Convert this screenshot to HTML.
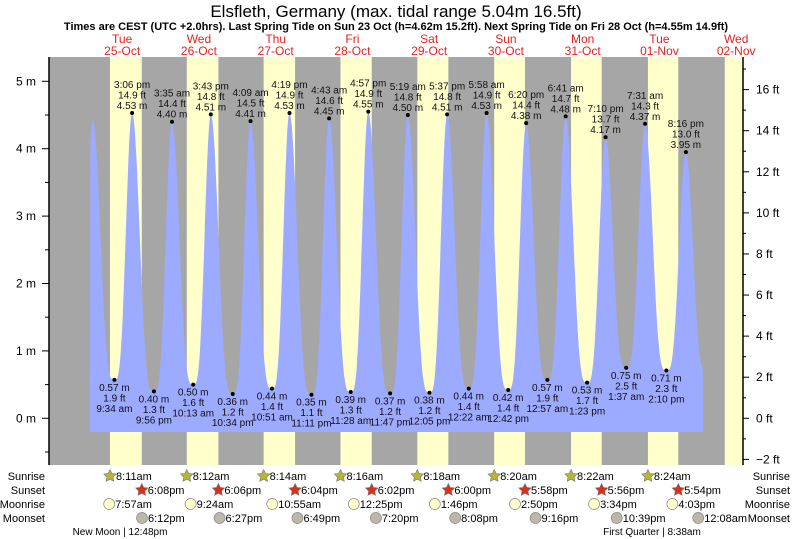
<!DOCTYPE html>
<html><head><meta charset="utf-8"><style>
body{margin:0;background:#fff}
svg{display:block;font-family:"Liberation Sans",sans-serif}
</style></head><body>
<svg id="c" width="793" height="539" viewBox="0 0 793 539">
<text x="396" y="17" font-size="17" text-anchor="middle">Elsfleth, Germany (max. tidal range 5.04m 16.5ft)</text>
<text x="396" y="30" font-size="11" font-weight="bold" text-anchor="middle">Times are CEST (UTC +2.0hrs). Last Spring Tide on Sun 23 Oct (h=4.62m 15.2ft). Next Spring Tide on Fri 28 Oct (h=4.55m 14.9ft)</text>
<g id="bg"></g><g id="tide"></g><g id="lbl"></g><g id="axes"></g><g id="bottom"></g>
</svg>
<script>
const days=["Tue","Wed","Thu","Fri","Sat","Sun","Mon","Tue","Wed"];
const dates=["25-Oct","26-Oct","27-Oct","28-Oct","29-Oct","30-Oct","31-Oct","01-Nov","02-Nov"];
const sunrise=["8:11am","8:12am","8:14am","8:16am","8:18am","8:20am","8:22am","8:24am","8:26am"];
const sunset=["6:08pm","6:06pm","6:04pm","6:02pm","6:00pm","5:58pm","5:56pm","5:54pm"];
const moonrise=["7:57am","9:24am","10:55am","12:25pm","1:46pm","2:50pm","3:34pm","4:03pm"];
const moonset=["6:12pm","6:27pm","6:49pm","7:20pm","8:08pm","9:16pm","10:39pm","12:08am"];
const moonsetDay=[0,1,2,3,4,5,6,8];
// tides: day index, time, height m (first and last entries are off-chart context)
const tideDayFix=[-1,0,0,0,0,1,1,1,1,2,2,2,2,3,3,3,3,4,4,4,5,5,5,5,6,6,6,6,7,7,7,7,8];
const tideTime=["9:00pm","2:50am","9:34am","3:06pm","9:56pm","3:35am","10:13am","3:43pm","10:34pm","4:09am","10:51am","4:19pm","11:11pm","4:43am","11:28am","4:57pm","11:47pm","5:19am","12:05pm","5:37pm","12:22am","5:58am","12:42pm","6:20pm","12:57am","6:41am","1:23pm","7:10pm","1:37am","7:31am","2:10pm","8:16pm","2:40am"];
const tideH=[-0.3,4.43,0.57,4.53,0.40,4.40,0.50,4.51,0.36,4.41,0.44,4.53,0.35,4.45,0.39,4.55,0.37,4.50,0.38,4.51,0.44,4.53,0.42,4.38,0.57,4.48,0.53,4.17,0.75,4.37,0.71,3.95,0.70];
const ns="http://www.w3.org/2000/svg";
const X0=49,X1=743,Y0=57,Y1=465,DW=76.75,MID=83.8;
function xs(d,h){return MID+d*DW+h/24*DW;}
function ym(m){return 418.3-67.4*m;}
function hrs(t){const m=t.match(/(\d+):(\d+)\s*(am|pm)/);let h=+m[1]%12;if(m[3]=="pm")h+=12;return h+ +m[2]/60;}
function el(p,tag,a,txt){const e=document.createElementNS(ns,tag);for(const k in a)e.setAttribute(k,a[k]);if(txt!==undefined)e.textContent=txt;p.appendChild(e);return e;}
const bg=document.getElementById('bg'),tide=document.getElementById('tide'),lbl=document.getElementById('lbl'),axes=document.getElementById('axes'),bot=document.getElementById('bottom');
let r=el(bg,'rect',{x:X0,y:Y0,width:X1-X0,height:Y1-Y0,fill:'#a6a6a6'});

for(let d=0;d<9;d++){
  const a=xs(d,hrs(sunrise[d])), b=d<8?xs(d,hrs(sunset[d])):X1;
  r=el(bg,'rect',{x:a,y:Y0,width:Math.min(b,X1)-a,height:Y1-Y0,fill:'#ffffcc'});
  
  const cx=xs(d,12);
  let t=el(bg,'text',{x:cx,y:43,'font-size':12,fill:'#e8201e','text-anchor':'middle'},days[d]);
  
  t=el(bg,'text',{x:cx,y:55,'font-size':12,fill:'#e8201e','text-anchor':'middle'},dates[d]);
  
}
const pts=tideTime.map((t,i)=>[xs(tideDayFix[i],hrs(t)),tideH[i]]);
const xa=90,xb=703,yb=432;
let path=`M${xa},${yb}`;
for(let i=0;i<pts.length-1;i++){
  const [x1,h1]=pts[i],[x2,h2]=pts[i+1];
  for(let k=0;k<=30;k++){const f=k/30;const x=x1+(x2-x1)*f;if(x<xa||x>xb)continue;
    let s=(1-Math.cos(Math.PI*f))/2;let h;
    if(h2>h1){h=h1+(h2-h1)*Math.pow(s,1.8);}else{h=h2+(h1-h2)*Math.pow(1-s,1.8);}
    path+=`L${x.toFixed(1)},${Math.min(ym(h),yb).toFixed(1)}`;}
}
path+=`L${xb},${yb}Z`;
let p=el(tide,'path',{d:path,fill:'#9caaff'});

for(let i=2;i<pts.length-1;i++){
  const [x,h]=pts[i];const y=ym(h);const hi=h>2;
  let c=el(lbl,'circle',{cx:x,cy:y,r:2,fill:'#000'});
  
  const ft=(h/0.3048).toFixed(1)+' ft',m=h.toFixed(2)+' m',t=tideTime[i].replace(/(am|pm)/,' $1');
  const lines=hi?[t,ft,m]:[m,ft,t];
  lines.forEach((s,j)=>{const ty=hi?y-25+j*10.5:y+11+j*10.5;
    let tx=el(lbl,'text',{x:x,y:ty,'font-size':10,fill:'#111','text-anchor':'middle'},s);
    });
}
let ln=el(axes,'line',{x1:X0,y1:Y0,x2:X0,y2:Y1,stroke:'#000','stroke-width':1.5});

ln=el(axes,'line',{x1:X1,y1:Y0,x2:X1,y2:Y1,stroke:'#000','stroke-width':1.5});

for(let m=-0.5;m<=5.01;m+=0.5){const y=ym(m);const maj=Math.abs(m-Math.round(m))<0.01;
  el(axes,'line',{x1:maj?42:45,y1:y,x2:X0,y2:y,stroke:'#000'});
  if(maj&&m>=0){let t=el(axes,'text',{x:36,y:y+4,'font-size':12,'text-anchor':'end'},Math.round(m)+' m');
    }}
for(let f=-2;f<=17;f++){const y=ym(f*0.3048);const maj=f%2==0;
  el(axes,'line',{x1:X1,y1:y,x2:X1+(maj?6:3),y2:y,stroke:'#000'});
  if(maj&&f<=16){let t=el(axes,'text',{x:756,y:y+4,'font-size':12},(f<0?'\u2212'+(-f):f)+' ft');
    }}
const rows=["Sunrise","Sunset","Moonrise","Moonset"],ry=[476,490,504,518];
rows.forEach((s,i)=>{let t=el(bot,'text',{x:45,y:ry[i]+4,'font-size':11,'text-anchor':'end'},s);
  
  t=el(bot,'text',{x:790,y:ry[i]+4,'font-size':11,'text-anchor':'end'},s);
  });
function star(x,y,fill){let s='';for(let k=0;k<10;k++){const a=-Math.PI/2+k*Math.PI/5,rr=k%2?3.2:6.5;s+=(x+rr*Math.cos(a)).toFixed(1)+','+(y+rr*Math.sin(a)).toFixed(1)+' ';}
  return el(bot,'polygon',{points:s,fill:fill,stroke:'#777','stroke-width':0.6});}
function ev(arr,dayArr,row,kind){arr.forEach((t,i)=>{const d=dayArr?dayArr[i]:i;const x=xs(d,hrs(t));const y=ry[row];
  let ic;if(kind=='sr')ic=star(x,y,'#b5b53a');else if(kind=='ss')ic=star(x,y,'#d8301c');
  else ic=el(bot,'circle',{cx:x,cy:y,r:5.5,fill:kind=='mr'?'#ffffcc':'#bbb7ab',stroke:'#888','stroke-width':0.7});
  
  let tx=el(bot,'text',{x:x+6,y:y+4,'font-size':11},t);
  });}
ev(sunrise.slice(0,8),null,0,'sr');ev(sunset,null,1,'ss');ev(moonrise,null,2,'mr');ev(moonset,moonsetDay,3,'ms');
let t=el(bot,'text',{x:120,y:535,'font-size':10,'text-anchor':'middle'},'New Moon | 12:48pm');

t=el(bot,'text',{x:652,y:535,'font-size':10,'text-anchor':'middle'},'First Quarter | 8:38am');

</script>
</body></html>
